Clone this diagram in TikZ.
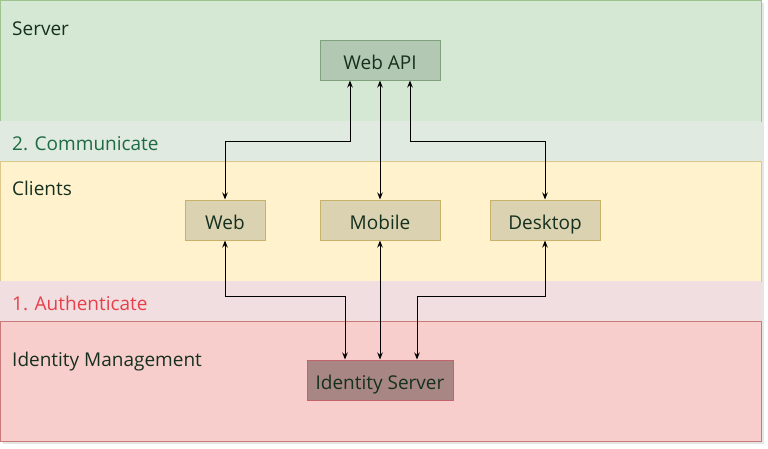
\documentclass[tikz,border=0pt]{standalone}
\usepackage{fontspec}
\setmainfont{Open Sans}
\usetikzlibrary{calc, positioning, arrows.meta}

\definecolor{serverfill}{HTML}{D5E8D4}
\definecolor{serverline}{HTML}{9DC48F}
\definecolor{commfill}{HTML}{E0EAE0}
\definecolor{clientfill}{HTML}{FFF2CC}
\definecolor{clientline}{HTML}{DCC88A}
\definecolor{authfill}{HTML}{F0DEE0}
\definecolor{idfill}{HTML}{F8CECC}
\definecolor{idline}{HTML}{C97A7A}
\definecolor{apifill}{HTML}{B3C8B2}
\definecolor{apiline}{HTML}{7FA27C}
\definecolor{appfill}{HTML}{DBD2B1}
\definecolor{appline}{HTML}{C8B26A}
\definecolor{isfill}{HTML}{A88684}
\definecolor{isline}{HTML}{C2646A}
\definecolor{inktext}{HTML}{15301F}
\definecolor{commtext}{HTML}{1E6A44}
\definecolor{authtext}{HTML}{E8404A}

\tikzset{
	lbl/.style = {anchor = base west, inner sep = 0pt, text = inktext, font = \fontsize{19}{22}\selectfont},
	box/.style = {draw, line width = 1pt, minimum height = 40pt, inner sep = 0pt, text height = 19pt, text depth = 0pt, text = inktext, font = \fontsize{19}{22}\selectfont},
	link/.style = {line width = 1pt, {Stealth[length = 7pt, width = 5.5pt]}-{Stealth[length = 7pt, width = 5.5pt]}}
}

\begin{document}
\begin{tikzpicture}[x = 1pt, y = -1pt]
		\useasboundingbox (0,0) rectangle (768,448);
		
		% bands
		\fill [black!10] (3,3) rectangle (764,444);
		\filldraw [fill = serverfill, draw = serverline, line width = 1pt] (0.5,0.5) rectangle (761,121);
		\fill [commfill] (0,121) rectangle (761,161);
		\filldraw [fill = clientfill, draw = clientline, line width = 1pt] (0.5,161) rectangle (761,281);
		\fill [authfill] (0,281) rectangle (761,321);
		\filldraw [fill = idfill, draw = idline, line width = 1pt] (0.5,321) rectangle (761,441);
		
		\coordinate (comm mid) at (0,141);
		\coordinate (auth mid) at (0,296);
		
		\node [lbl] (server label) at (12,35) {Server};
		\node [lbl, text = commtext] (comm label) at (12,150) {2. Communicate};
		\node [lbl] (clients label) at (12,195) {Clients};
		\node [lbl, text = authtext] (auth label) at (12,310) {1. Authenticate};
		\node [lbl] (identity label) at (12,366) {Identity Management};
		
		% boxes
		\node [box, fill = apifill, draw = apiline, minimum width = 120pt] (web api) at (380,60) {Web API};
		\node [box, fill = appfill, draw = appline, minimum width = 80pt] (web) at (225,220) {Web};
		\node [box, fill = appfill, draw = appline, minimum width = 120pt] (mobile) at (380,220) {Mobile};
		\node [box, fill = appfill, draw = appline, minimum width = 110pt] (desktop) at (545,220) {Desktop};
		\node [box, fill = isfill, draw = isline, minimum width = 146pt] (identity server) at (380,380) {Identity Server};
		
		% connectors
		\draw [link] ([xshift = -30pt]web api.south) -- ([xshift = -30pt]web api.south |- comm mid) -| (web.north);
		\draw [link] (web api.south) -- (mobile.north);
		\draw [link] ([xshift = 30pt]web api.south) -- ([xshift = 30pt]web api.south |- comm mid) -| (desktop.north);
		
		\draw [link] (web.south) -- (web.south |- auth mid) -| ([xshift = -35pt]identity server.north);
		\draw [link] (mobile.south) -- (identity server.north);
		\draw [link] (desktop.south) -- (desktop.south |- auth mid) -| ([xshift = 37pt]identity server.north);
	\end{tikzpicture}
\end{document}
